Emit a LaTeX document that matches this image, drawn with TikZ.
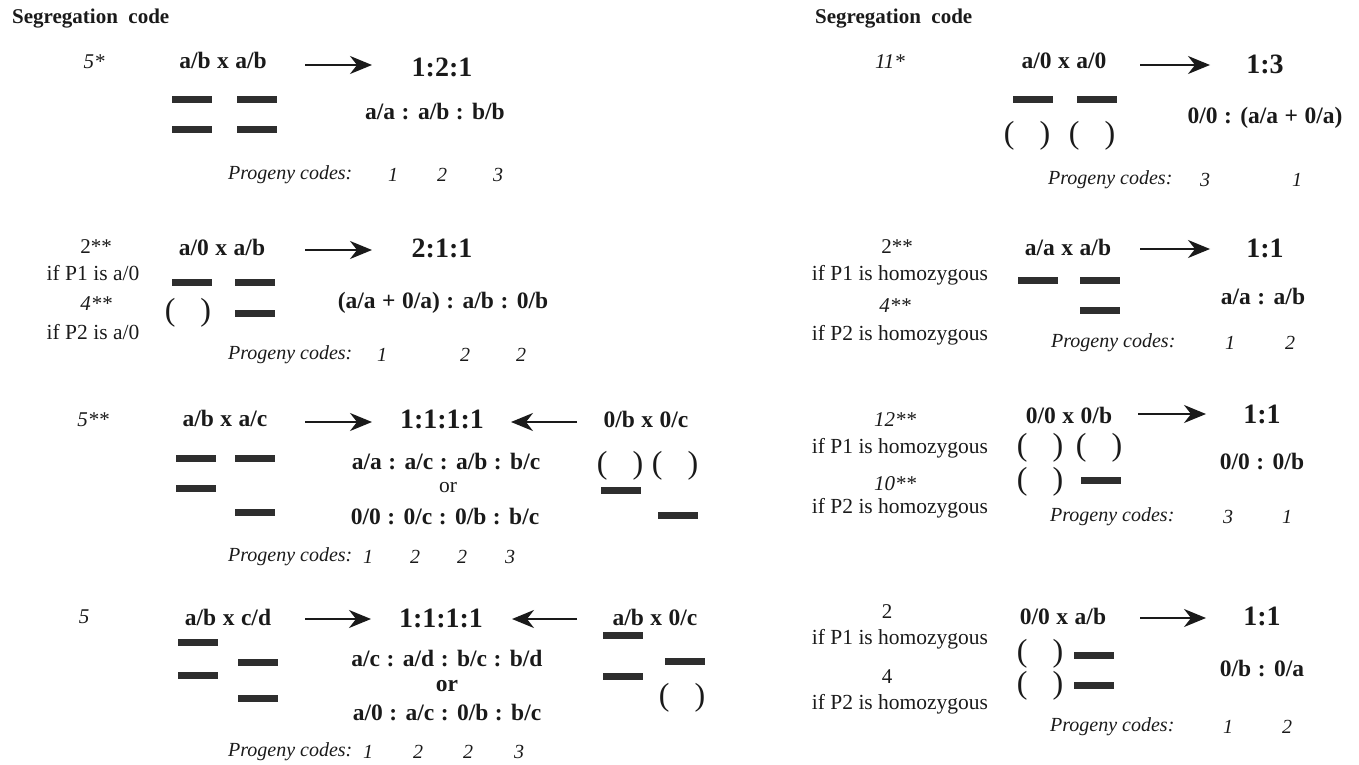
\documentclass[tikz,border=0pt]{standalone}
\usepackage{fontspec}
\setmainfont{Liberation Serif}
\usetikzlibrary{arrows.meta}
\definecolor{ink}{HTML}{1A1A1A}
\definecolor{barc}{HTML}{2E2E2E}
\newcommand{\genofont}{\fontsize{23.5}{26}\selectfont\bfseries\spaceskip=6.5pt plus 1pt\relax}
\newcommand{\pr}{(\hspace{25pt})}
\begin{document}
\begin{tikzpicture}[x=1pt,y=-1pt,
  txt/.style={inner sep=0pt,text=ink},
  head/.style={txt,font=\fontsize{21}{24}\selectfont\bfseries},
  codeit/.style={txt,font=\fontsize{21}{24}\selectfont\itshape},
  codeup/.style={txt,font=\fontsize{21}{24}\selectfont},
  cond/.style={txt,font=\fontsize{21.5}{24}\selectfont},
  geno/.style={txt,font=\genofont},
  ratio/.style={txt,font=\fontsize{28}{31}\selectfont\bfseries},
  prog/.style={txt,font=\fontsize{20}{23}\selectfont\itshape},
  par/.style={txt,font=\fontsize{32}{34}\selectfont},
  bar/.style={fill=barc,draw=none,minimum width=40pt,minimum height=7pt,inner sep=0pt},
  arr/.style={draw=ink,line width=1.8pt,-{Stealth[length=22pt,width=18pt,inset=7pt]}}
]
\useasboundingbox (0,0) rectangle (1359,765);

% ================= LEFT PANEL =================
\node[head,anchor=west] (segL) at (12,19) {Segregation\ \ code};

% ---- row 1
\node[codeit] (L1code) at (94,62) {5*};
\node[geno] (L1g) at (223,60) {a/b x a/b};
\coordinate (L1as) at (305,65); \coordinate (L1ae) at (372,65);
\draw[arr] (L1as) -- (L1ae);
\node[ratio] (L1r) at (442,67) {1:2:1};
\node[bar] (L1b1) at (192,100) {};
\node[bar] (L1b2) at (257,100) {};
\node[bar] (L1b3) at (192,130) {};
\node[bar] (L1b4) at (257,130) {};
\node[geno] (L1s) at (435,112) {a/a : a/b : b/b};
\node[prog,anchor=west] (L1p) at (228,175) {Progeny codes:};
\node[prog] (L1n1) at (393,175) {1};
\node[prog] (L1n2) at (442,175) {2};
\node[prog] (L1n3) at (498,175) {3};

% ---- row 2
\node[codeup] (L2c1) at (96,247) {2**};
\node[cond] (L2i1) at (93,273) {if P1 is a/0};
\node[codeit] (L2c2) at (96,304) {4**};
\node[cond] (L2i2) at (93,332) {if P2 is a/0};
\node[geno] (L2g) at (222,247) {a/0 x a/b};
\coordinate (L2as) at (305,250); \coordinate (L2ae) at (372,250);
\draw[arr] (L2as) -- (L2ae);
\node[ratio] (L2r) at (442,248) {2:1:1};
\node[bar] (L2b1) at (192,282) {};
\node[bar] (L2b2) at (255,282) {};
\node[bar] (L2b3) at (255,313) {};
\node[par] (L2p) at (188,313) {\pr};
\node[geno] (L2s) at (443,303) {(a/a + 0/a) : a/b : 0/b};
\node[prog,anchor=west] (L2pc) at (228,355) {Progeny codes:};
\node[prog] (L2n1) at (382,355) {1};
\node[prog] (L2n2) at (465,355) {2};
\node[prog] (L2n3) at (521,355) {2};

% ---- row 3
\node[codeit] (L3code) at (93,420) {5**};
\node[geno] (L3g) at (225,418) {a/b x a/c};
\coordinate (L3as) at (305,422); \coordinate (L3ae) at (372,422);
\draw[arr] (L3as) -- (L3ae);
\node[ratio] (L3r) at (442,419) {1:1:1:1};
\coordinate (L3bs) at (577,422); \coordinate (L3be) at (511,422);
\draw[arr] (L3bs) -- (L3be);
\node[geno] (L3g2) at (646,419) {0/b x 0/c};
\node[par] (L3p1) at (620,466) {\pr};
\node[par] (L3p2) at (675,466) {\pr};
\node[bar] (L3b5) at (621,490) {};
\node[bar] (L3b6) at (678,515) {};
\node[bar] (L3b1) at (196,458) {};
\node[bar] (L3b2) at (196,488) {};
\node[bar] (L3b3) at (255,458) {};
\node[bar] (L3b4) at (255,512) {};
\node[geno] (L3s1) at (446,462) {a/a : a/c : a/b : b/c};
\node[cond] (L3or) at (448,488) {or};
\node[geno] (L3s2) at (445,517) {0/0 : 0/c : 0/b : b/c};
\node[prog,anchor=west] (L3pc) at (228,557) {Progeny codes:};
\node[prog] (L3n1) at (368,557) {1};
\node[prog] (L3n2) at (415,557) {2};
\node[prog] (L3n3) at (462,557) {2};
\node[prog] (L3n4) at (510,557) {3};

% ---- row 4
\node[codeit] (L4code) at (84,617) {5};
\node[geno] (L4g) at (228,617) {a/b x c/d};
\coordinate (L4as) at (305,619); \coordinate (L4ae) at (371,619);
\draw[arr] (L4as) -- (L4ae);
\node[ratio] (L4r) at (441,618) {1:1:1:1};
\coordinate (L4bs) at (577,619); \coordinate (L4be) at (512,619);
\draw[arr] (L4bs) -- (L4be);
\node[geno] (L4g2) at (655,617) {a/b x 0/c};
\node[bar] (L4b5) at (623,635) {};
\node[bar] (L4b6) at (623,676) {};
\node[bar] (L4b7) at (685,661) {};
\node[par] (L4p) at (682,698) {\pr};
\node[bar] (L4b1) at (198,642) {};
\node[bar] (L4b2) at (198,675) {};
\node[bar] (L4b3) at (258,662) {};
\node[bar] (L4b4) at (258,698) {};
\node[geno] (L4s1) at (447,659) {a/c : a/d : b/c : b/d};
\node[geno] (L4or) at (447,686) {or};
\node[geno] (L4s2) at (447,713) {a/0 : a/c : 0/b : b/c};
\node[prog,anchor=west] (L4pc) at (228,752) {Progeny codes:};
\node[prog] (L4n1) at (368,752) {1};
\node[prog] (L4n2) at (418,752) {2};
\node[prog] (L4n3) at (468,752) {2};
\node[prog] (L4n4) at (519,752) {3};

% ================= RIGHT PANEL =================
\node[head,anchor=west] (segR) at (815,19) {Segregation\ \ code};

% ---- row 1
\node[codeit] (R1code) at (890,62) {11*};
\node[geno] (R1g) at (1064,61) {a/0 x a/0};
\coordinate (R1as) at (1140,65); \coordinate (R1ae) at (1210,65);
\draw[arr] (R1as) -- (R1ae);
\node[ratio] (R1r) at (1265,64) {1:3};
\node[bar] (R1b1) at (1033,100) {};
\node[bar] (R1b2) at (1097,100) {};
\node[par] (R1p1) at (1027,136) {\pr};
\node[par] (R1p2) at (1092,136) {\pr};
\node[geno] (R1s) at (1265,118) {0/0 : (a/a + 0/a)};
\node[prog,anchor=west] (R1pc) at (1048,180) {Progeny codes:};
\node[prog] (R1n1) at (1205,180) {3};
\node[prog] (R1n2) at (1297,180) {1};

% ---- row 2
\node[codeup] (R2c1) at (897,247) {2**};
\node[cond] (R2i1) at (900,275) {if P1 is homozygous};
\node[codeit] (R2c2) at (895,306) {4**};
\node[cond] (R2i2) at (900,335) {if P2 is homozygous};
\node[geno] (R2g) at (1068,247) {a/a x a/b};
\coordinate (R2as) at (1140,249); \coordinate (R2ae) at (1210,249);
\draw[arr] (R2as) -- (R2ae);
\node[ratio] (R2r) at (1265,248) {1:1};
\node[bar] (R2b1) at (1038,280) {};
\node[bar] (R2b2) at (1100,280) {};
\node[bar] (R2b3) at (1100,310) {};
\node[geno] (R2s) at (1263,297) {a/a : a/b};
\node[prog,anchor=west] (R2pc) at (1051,343) {Progeny codes:};
\node[prog] (R2n1) at (1230,343) {1};
\node[prog] (R2n2) at (1290,343) {2};

% ---- row 3
\node[codeit] (R3c1) at (895,420) {12**};
\node[cond] (R3i1) at (900,448) {if P1 is homozygous};
\node[codeit] (R3c2) at (895,484) {10**};
\node[cond] (R3i2) at (900,508) {if P2 is homozygous};
\node[geno] (R3g) at (1069,415) {0/0 x 0/b};
\coordinate (R3as) at (1138,414); \coordinate (R3ae) at (1206,414);
\draw[arr] (R3as) -- (R3ae);
\node[ratio] (R3r) at (1262,414) {1:1};
\node[par] (R3p1) at (1040,448) {\pr};
\node[par] (R3p2) at (1099,448) {\pr};
\node[par] (R3p3) at (1040,482) {\pr};
\node[bar] (R3b1) at (1101,480) {};
\node[geno] (R3s) at (1262,462) {0/0 : 0/b};
\node[prog,anchor=west] (R3pc) at (1050,517) {Progeny codes:};
\node[prog] (R3n1) at (1228,517) {3};
\node[prog] (R3n2) at (1287,517) {1};

% ---- row 4
\node[codeup] (R4c1) at (887,612) {2};
\node[cond] (R4i1) at (900,639) {if P1 is homozygous};
\node[codeup] (R4c2) at (887,677) {4};
\node[cond] (R4i2) at (900,704) {if P2 is homozygous};
\node[geno] (R4g) at (1063,616) {0/0 x a/b};
\coordinate (R4as) at (1140,618); \coordinate (R4ae) at (1206,618);
\draw[arr] (R4as) -- (R4ae);
\node[ratio] (R4r) at (1262,616) {1:1};
\node[par] (R4p1) at (1040,654) {\pr};
\node[par] (R4p2) at (1040,686) {\pr};
\node[bar] (R4b1) at (1094,655) {};
\node[bar] (R4b2) at (1094,685) {};
\node[geno] (R4s) at (1262,669) {0/b : 0/a};
\node[prog,anchor=west] (R4pc) at (1050,727) {Progeny codes:};
\node[prog] (R4n1) at (1228,727) {1};
\node[prog] (R4n2) at (1287,727) {2};
\end{tikzpicture}
\end{document}
